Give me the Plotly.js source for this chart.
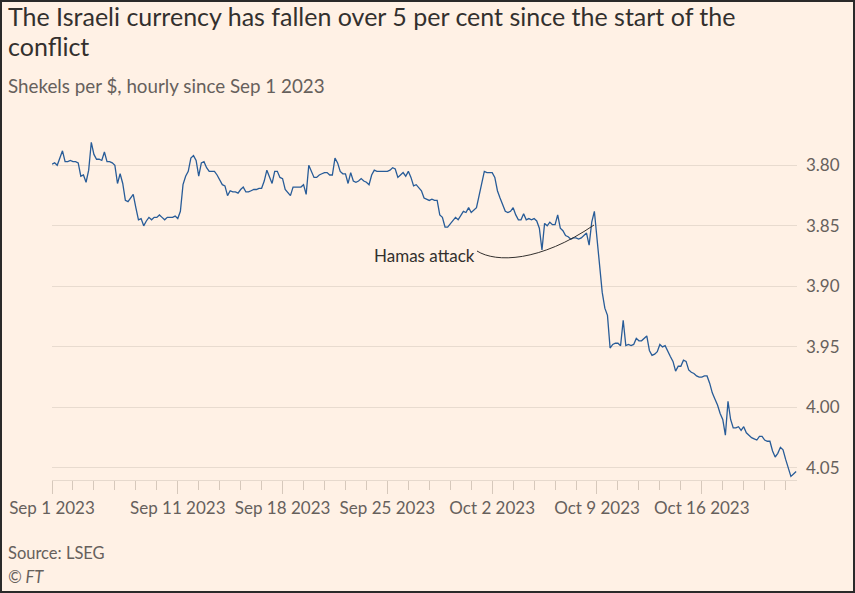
<!DOCTYPE html>
<html>
<head>
<meta charset="utf-8">
<script src="https://cdn.plot.ly/plotly-3.0.1.min.js"></script>
<style>
  html, body { margin: 0; padding: 0; background: #fff1e5; }
  #wrap { position: relative; width: 855px; height: 593px; }
  #chart { width: 855px; height: 593px; }
  #frame { position: absolute; left: 0; top: 0; width: 855px; height: 593px;
           box-sizing: border-box; border: 2px solid #2a2a2a; pointer-events: none; }
</style>
</head>
<body>
<div id="wrap">
  <div id="chart"></div>
  <div id="frame"></div>
</div>
<script>
// Торгові дні (без вихідних)
var days = [
	'2023-09-01',
	'2023-09-04', '2023-09-05', '2023-09-06', '2023-09-07', '2023-09-08',
	'2023-09-11', '2023-09-12', '2023-09-13', '2023-09-14', '2023-09-15',
	'2023-09-18', '2023-09-19', '2023-09-20', '2023-09-21', '2023-09-22',
	'2023-09-25', '2023-09-26', '2023-09-27', '2023-09-28', '2023-09-29',
	'2023-10-02', '2023-10-03', '2023-10-04', '2023-10-05', '2023-10-06',
	'2023-10-09', '2023-10-10', '2023-10-11', '2023-10-12', '2023-10-13',
	'2023-10-16', '2023-10-17', '2023-10-18', '2023-10-19', '2023-10-20'
];

// Шекелів за долар, кожні 3 години в межах дня
var rates = [
	[3.799, 3.798, 3.800, 3.793, 3.788, 3.797, 3.797, 3.796],
	[3.797, 3.797, 3.798, 3.809, 3.808, 3.814, 3.804, 3.781],
	[3.791, 3.795, 3.795, 3.796, 3.789, 3.797, 3.797, 3.798],
	[3.800, 3.815, 3.807, 3.815, 3.829, 3.830, 3.827, 3.824],
	[3.835, 3.845, 3.844, 3.850, 3.846, 3.843, 3.845, 3.843],
	[3.843, 3.841, 3.843, 3.845, 3.843, 3.843, 3.843, 3.842],
	[3.844, 3.838, 3.816, 3.809, 3.805, 3.794, 3.792, 3.796],
	[3.809, 3.798, 3.797, 3.802, 3.805, 3.805, 3.805, 3.808],
	[3.812, 3.816, 3.817, 3.825, 3.821, 3.822, 3.822, 3.823],
	[3.820, 3.818, 3.822, 3.822, 3.821, 3.820, 3.820, 3.819],
	[3.819, 3.813, 3.804, 3.809, 3.815, 3.805, 3.805, 3.810],
	[3.811, 3.820, 3.823, 3.825, 3.818, 3.818, 3.818, 3.818],
	[3.816, 3.824, 3.800, 3.805, 3.810, 3.810, 3.808, 3.807],
	[3.806, 3.806, 3.808, 3.808, 3.794, 3.798, 3.805, 3.807],
	[3.807, 3.815, 3.806, 3.813, 3.814, 3.813, 3.811, 3.813],
	[3.814, 3.816, 3.808, 3.804, 3.805, 3.805, 3.805, 3.805],
	[3.805, 3.804, 3.802, 3.803, 3.810, 3.808, 3.806, 3.809],
	[3.805, 3.810, 3.817, 3.816, 3.819, 3.821, 3.827, 3.828],
	[3.829, 3.828, 3.829, 3.829, 3.841, 3.843, 3.851, 3.851],
	[3.848, 3.845, 3.843, 3.845, 3.842, 3.838, 3.839, 3.835],
	[3.839, 3.837, 3.835, 3.825, 3.814, 3.805, 3.806, 3.806],
	[3.806, 3.810, 3.821, 3.827, 3.832, 3.838, 3.839, 3.838],
	[3.835, 3.841, 3.845, 3.845, 3.840, 3.845, 3.844, 3.845],
	[3.844, 3.846, 3.852, 3.870, 3.848, 3.850, 3.847, 3.849],
	[3.849, 3.841, 3.852, 3.854, 3.858, 3.859, 3.861, 3.860],
	[3.860, 3.861, 3.860, 3.858, 3.856, 3.866, 3.847, 3.838],
	[3.862, 3.882, 3.905, 3.918, 3.924, 3.951, 3.948, 3.947],
	[3.947, 3.949, 3.928, 3.949, 3.948, 3.949, 3.948, 3.943],
	[3.945, 3.945, 3.943, 3.941, 3.953, 3.957, 3.956, 3.954],
	[3.948, 3.950, 3.949, 3.954, 3.958, 3.962, 3.970, 3.966],
	[3.966, 3.961, 3.962, 3.969, 3.971, 3.972, 3.974, 3.975],
	[3.975, 3.974, 3.974, 3.980, 3.988, 3.993, 3.998, 4.005],
	[4.010, 4.023, 3.995, 4.010, 4.017, 4.017, 4.016, 4.019],
	[4.016, 4.021, 4.023, 4.025, 4.026, 4.027, 4.024, 4.024],
	[4.027, 4.028, 4.028, 4.036, 4.041, 4.038, 4.033, 4.035],
	[4.043, 4.050, 4.057, 4.055, 4.053]
];

// Підписи осі X
var labelDates = ['2023-09-01', '2023-09-11', '2023-09-18', '2023-09-25', '2023-10-02', '2023-10-09', '2023-10-16'];
var labelTexts = ['Sep 1 2023', 'Sep 11 2023', 'Sep 18 2023', 'Sep 25 2023', 'Oct 2 2023', 'Oct 9 2023', 'Oct 16 2023'];
var yTicks = [3.80, 3.85, 3.90, 3.95, 4.00, 4.05];

var FONT = 'Lato, "Open Sans", sans-serif';
var GREY = '#66605c';
var DARK = '#33302e';

// Збираю точки в один ряд
var xs = [];
var ys = [];
for (var i = 0; i < days.length; i++) {
	for (var k = 0; k < rates[i].length; k++) {
		var h = k * 3;
		xs.push(days[i] + ' ' + (h < 10 ? '0' + h : h) + ':00');
		ys.push(rates[i][k]);
	}
}

var data = [{
	x: xs,
	y: ys,
	type: 'scatter',
	mode: 'lines',
	line: { color: '#285c98', width: 1.3 },
	hoverinfo: 'skip'
}];

// Піксель -> координати паперу (площа графіка 52..797 x 129..480)
function px(x) { return (x - 52) / 745; }
function py(y) { return (480 - y) / 351; }

var layout = {
	width: 855,
	height: 593,
	paper_bgcolor: '#fff1e5',
	plot_bgcolor: '#fff1e5',
	margin: { l: 52, r: 58, t: 129, b: 113 },
	showlegend: false,
	font: { family: FONT, color: GREY, size: 16 },
	xaxis: {
		type: 'date',
		range: ['2023-09-01 00:00', '2023-10-20 13:00'],
		rangebreaks: [{ bounds: ['sat', 'mon'] }],
		tickmode: 'array',
		tickvals: labelDates,
		ticktext: labelTexts,
		ticks: 'outside',
		ticklen: 13,
		tickcolor: '#d6c8bb',
		showgrid: false,
		zeroline: false,
		showline: true,
		linecolor: '#e6d9cd',
		tickfont: { family: FONT, size: 17, color: GREY },
		minor: {
			tickmode: 'array',
			tickvals: days,
			ticks: 'outside',
			ticklen: 9,
			tickcolor: '#d6c8bb',
			showgrid: false
		}
	},
	yaxis: {
		side: 'right',
		range: [4.06, 3.77],
		tickmode: 'array',
		tickvals: yTicks,
		tickformat: '.2f',
		ticks: '',
		ticklabelstandoff: 8,
		showgrid: true,
		gridcolor: '#e8dbcf',
		gridwidth: 1,
		zeroline: false,
		showline: false,
		tickfont: { family: FONT, size: 17, color: GREY }
	},
	annotations: [
		{ text: 'The Israeli currency has fallen over 5 per cent since the start of the', xref: 'paper', yref: 'paper',
			x: px(6), y: py(16), xanchor: 'left', yanchor: 'middle', showarrow: false,
			font: { family: FONT, size: 25, color: DARK } },
		{ text: 'conflict', xref: 'paper', yref: 'paper',
			x: px(6), y: py(46), xanchor: 'left', yanchor: 'middle', showarrow: false,
			font: { family: FONT, size: 25, color: DARK } },
		{ text: 'Shekels per $, hourly since Sep 1 2023', xref: 'paper', yref: 'paper',
			x: px(6), y: py(86), xanchor: 'left', yanchor: 'middle', showarrow: false,
			font: { family: FONT, size: 18.8, color: GREY } },
		{ text: 'Hamas attack', xref: 'paper', yref: 'paper',
			x: px(477), y: py(255), xanchor: 'right', yanchor: 'middle', showarrow: false,
			font: { family: FONT, size: 17, color: DARK } },
		{ text: 'Source: LSEG', xref: 'paper', yref: 'paper',
			x: px(6), y: py(553), xanchor: 'left', yanchor: 'middle', showarrow: false,
			font: { family: FONT, size: 16.5, color: GREY } },
		{ text: '<i>© FT</i>', xref: 'paper', yref: 'paper',
			x: px(6), y: py(577), xanchor: 'left', yanchor: 'middle', showarrow: false,
			font: { family: FONT, size: 16.5, color: GREY } }
	],
	shapes: [
		// крива до піку перед атакою
		{
			type: 'path', xref: 'paper', yref: 'paper',
			path: 'M ' + px(477) + ' ' + py(251) +
				' C ' + px(496) + ' ' + py(263) + ', ' + px(540) + ' ' + py(262) + ', ' + px(594) + ' ' + py(225),
			line: { color: DARK, width: 1 }
		}
	]
};

var config = { displayModeBar: false, staticPlot: true };

Plotly.newPlot('chart', data, layout, config);
</script>
</body>
</html>
